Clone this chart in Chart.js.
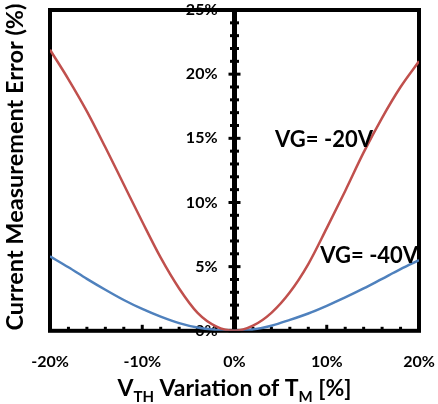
<!DOCTYPE html>
<html>
<head>
<meta charset="utf-8">
<script src="https://cdn.jsdelivr.net/npm/chart.js@4.4.0/dist/chart.umd.min.js"></script>
<style>
  html, body { margin: 0; padding: 0; background: #fff; }
</style>
</head>
<body>
<canvas id="graphique" width="438" height="404"></canvas>
<script>
// Données (%)
const variationVth = [-20, -18, -16, -14, -12, -10, -8, -6, -4, -2, 0, 2, 4, 6, 8, 10, 12, 14, 16, 18, 20];
const erreurVg20 = [21.9, 19.6, 17.1, 14.3, 11.4, 8.5, 5.7, 3.3, 1.4, 0.35, 0, 0.4, 1.4, 3.0, 5.2, 8.0, 10.9, 13.9, 16.6, 19.0, 21.0];
const erreurVg40 = [5.8, 4.95, 4.05, 3.2, 2.4, 1.7, 1.1, 0.6, 0.25, 0.07, 0, 0.1, 0.4, 0.85, 1.35, 1.95, 2.6, 3.3, 4.05, 4.8, 5.5];
const nomsSeries = ['VG= -20V', 'VG= -40V'];

const police = 'Lato, "Open Sans", sans-serif';
const decalageLabelsY = -1.84; // étiquettes Y un peu à gauche de l'axe central

// pas de marge automatique autour des axes
const sansMarge = scale => {
  scale.paddingLeft = 0;
  scale.paddingRight = 0;
  scale.paddingTop = 0;
  scale.paddingBottom = 0;
};

// Cadre noir, axe central et graduations
const cadre = {
  id: 'cadre',
  beforeDatasetsDraw(chart) {
    const { ctx, chartArea: a, scales: { x, y } } = chart;
    ctx.save();
    ctx.strokeStyle = '#000';
    ctx.lineWidth = 4;
    ctx.strokeRect(a.left, a.top, a.right - a.left, a.bottom - a.top);

    const x0 = x.getPixelForValue(0);
    ctx.lineWidth = 5;
    ctx.beginPath();
    ctx.moveTo(x0, a.top);
    ctx.lineTo(x0, a.bottom);
    ctx.stroke();

    ctx.lineWidth = 3;
    y.ticks.forEach(t => {
      const py = y.getPixelForValue(t.value);
      const demi = t.value % 5 === 0 ? 6 : 4.5;
      ctx.beginPath();
      ctx.moveTo(x0 - demi, py);
      ctx.lineTo(x0 + demi, py);
      ctx.stroke();
    });
    x.ticks.forEach(t => {
      const px = x.getPixelForValue(t.value);
      const h = t.value % 10 === 0 ? 6 : 4;
      ctx.beginPath();
      ctx.moveTo(px, a.bottom);
      ctx.lineTo(px, a.bottom - h);
      ctx.stroke();
    });
    ctx.restore();
  },
  afterDraw(chart) {
    const { ctx, scales: { x, y } } = chart;
    ctx.save();
    ctx.fillStyle = '#000';

    // étiquettes des courbes
    ctx.font = 'bold 22px ' + police;
    ctx.textAlign = 'left';
    ctx.textBaseline = 'middle';
    ctx.fillText(nomsSeries[0], x.getPixelForValue(4.4), y.getPixelForValue(14.9));
    ctx.fillText(nomsSeries[1], x.getPixelForValue(9.3), y.getPixelForValue(5.8));

    // titre de l'axe Y
    ctx.save();
    ctx.translate(15, 167);
    ctx.rotate(-Math.PI / 2);
    ctx.font = 'bold 23.5px ' + police;
    ctx.textAlign = 'center';
    ctx.fillText('Current Measurement Error (%)', 0, 0);
    ctx.restore();

    // titre de l'axe X avec indices
    const morceaux = [
      ['V', 23, 0], ['TH', 15, 6], [' Variation of T', 23, 0], ['M', 15, 6], [' [%]', 23, 0]
    ];
    ctx.textBaseline = 'alphabetic';
    let total = 0;
    morceaux.forEach(m => { ctx.font = 'bold ' + m[1] + 'px ' + police; total += ctx.measureText(m[0]).width; });
    let cx = x.getPixelForValue(0) - total / 2;
    morceaux.forEach(m => {
      ctx.font = 'bold ' + m[1] + 'px ' + police;
      ctx.fillText(m[0], cx, 396 + m[2]);
      cx += ctx.measureText(m[0]).width;
    });
    ctx.restore();
  }
};

new Chart(document.getElementById('graphique'), {
  type: 'line',
  data: {
    labels: variationVth,
    datasets: [
      {
        label: nomsSeries[0],
        data: variationVth.map((v, i) => ({ x: v, y: erreurVg20[i] })),
        borderColor: '#C0504D',
        borderWidth: 2.5,
        pointRadius: 0,
        cubicInterpolationMode: 'monotone',
        fill: false
      },
      {
        label: nomsSeries[1],
        data: variationVth.map((v, i) => ({ x: v, y: erreurVg40[i] })),
        borderColor: '#4F81BD',
        borderWidth: 2.5,
        pointRadius: 0,
        cubicInterpolationMode: 'monotone',
        fill: false
      }
    ]
  },
  options: {
    responsive: false,
    animation: false,
    layout: { padding: { left: 50, right: 19, top: 10, bottom: 12 } },
    plugins: { legend: { display: false }, tooltip: { enabled: false } },
    scales: {
      x: {
        type: 'linear',
        position: 'bottom',
        min: -20,
        max: 20,
        afterFit: sansMarge,
        grid: { display: false, drawTicks: false },
        border: { display: false },
        ticks: {
          stepSize: 2,
          autoSkip: false,
          maxRotation: 0,
          padding: 21,
          color: '#000',
          font: { family: police, size: 16, weight: 'bold' },
          callback: v => (v % 10 === 0 ? v + '%' : '')
        }
      },
      y: {
        type: 'linear',
        position: { x: decalageLabelsY },
        min: 0,
        max: 25,
        afterFit: sansMarge,
        grid: { display: false, drawTicks: false },
        border: { display: false },
        ticks: {
          stepSize: 1,
          autoSkip: false,
          color: '#000',
          font: { family: police, size: 16, weight: 'bold' },
          callback: v => (v % 5 === 0 ? v + '%' : '')
        }
      }
    }
  },
  plugins: [cadre]
});
</script>
</body>
</html>
